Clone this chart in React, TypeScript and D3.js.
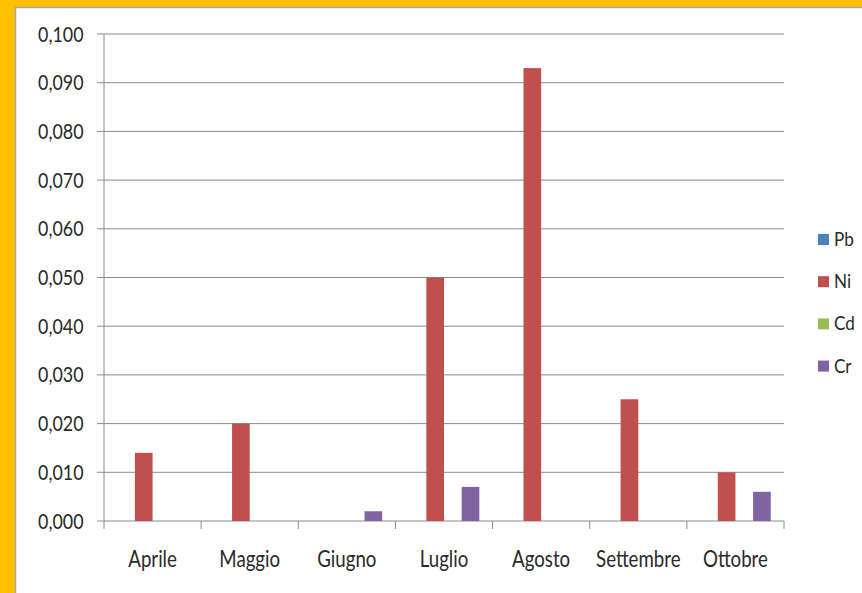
import React from "react";
import * as d3 from "d3";

const months = ["Aprile", "Maggio", "Giugno", "Luglio", "Agosto", "Settembre", "Ottobre"];
const seriesNames = ["Pb", "Ni", "Cd", "Cr"];
const pbValues = [0, 0, 0, 0, 0, 0, 0];
const niValues = [0.014, 0.02, 0, 0.05, 0.093, 0.025, 0.01];
const cdValues = [0, 0, 0, 0, 0, 0, 0];
const crValues = [0, 0, 0.002, 0.007, 0, 0, 0.006];
const yTicks = [0, 0.01, 0.02, 0.03, 0.04, 0.05, 0.06, 0.07, 0.08, 0.09, 0.1];
const colors = ["#4F81BD", "#C0504D", "#9BBB59", "#8064A2"];

const W = 862;
const H = 593;
const FONT = "Lato, 'Open Sans', sans-serif";

// Narrow-set label: condensed horizontally around its anchor point
function Label(props: {
  x: number;
  y: number;
  size: number;
  sx: number;
  anchor: "start" | "middle" | "end";
  children: React.ReactNode;
}) {
  return (
    <g transform={`translate(${props.x},${props.y}) scale(${props.sx},1)`}>
      <text x={0} y={0} textAnchor={props.anchor} fontSize={props.size} fill="#2a2a2a">
        {props.children}
      </text>
    </g>
  );
}

export default function App() {
  const seriesValues = [pbValues, niValues, cdValues, crValues];
  const plotLeft = 104;
  const plotRight = 784;
  const plotTop = 34;
  const plotBottom = 521;

  const x = d3.scaleBand<string>().domain(months).range([plotLeft, plotRight]).paddingInner(0).paddingOuter(0);
  const groupWidth = x.bandwidth() * (4 / 5.5);
  const inner = d3
    .scaleBand<string>()
    .domain(seriesNames)
    .range([(x.bandwidth() - groupWidth) / 2, (x.bandwidth() + groupWidth) / 2]);
  const y = d3.scaleLinear().domain([0, 0.1]).range([plotBottom, plotTop]);
  const fmt = (v: number) => d3.format(".3f")(v).replace(".", ",");

  return (
    <svg width={W} height={H} style={{ position: "absolute", left: 0, top: 0 }} fontFamily={FONT}>
      <rect x={0} y={0} width={W} height={H} fill="#FFC000" />
      <rect x={15.5} y={7.5} width={W} height={H} fill="#ffffff" stroke="#a6a6a6" strokeWidth={1.5} />

      {/* gridlines and y labels */}
      {yTicks.map((t) => (
        <g key={t}>
          <line x1={plotLeft - 7} x2={plotRight} y1={y(t)} y2={y(t)} stroke="#8c8c8c" strokeWidth={1} />
          <Label x={83.5} y={y(t) + 7.5} size={20.5} sx={0.87} anchor="end">
            {fmt(t)}
          </Label>
        </g>
      ))}

      {/* y axis */}
      <line x1={plotLeft} x2={plotLeft} y1={plotTop} y2={plotBottom} stroke="#8c8c8c" strokeWidth={1} />

      {/* category ticks */}
      {d3.range(months.length + 1).map((i) => {
        const xx = plotLeft + i * x.step();
        return <line key={i} x1={xx} x2={xx} y1={plotBottom} y2={plotBottom + 8} stroke="#8c8c8c" strokeWidth={1} />;
      })}

      {/* bars */}
      {seriesNames.map((s, si) => (
        <g key={s} fill={colors[si]}>
          {months.map((m, mi) => {
            const v = seriesValues[si][mi];
            if (v <= 0) return null;
            return (
              <rect
                key={m}
                x={(x(m) ?? 0) + (inner(s) ?? 0)}
                y={y(v)}
                width={inner.bandwidth()}
                height={plotBottom - y(v)}
              />
            );
          })}
        </g>
      ))}

      {/* x labels */}
      {months.map((m) => (
        <Label key={m} x={(x(m) ?? 0) + x.bandwidth() / 2} y={566.5} size={22.5} sx={0.83} anchor="middle">
          {m}
        </Label>
      ))}

      {/* legend */}
      {seriesNames.map((s, i) => (
        <g key={s} transform={`translate(0, ${i * 42.2})`}>
          <rect x={818} y={234} width={11} height={11} fill={colors[i]} />
          <Label x={834} y={246} size={19} sx={0.9} anchor="start">
            {s}
          </Label>
        </g>
      ))}
    </svg>
  );
}
